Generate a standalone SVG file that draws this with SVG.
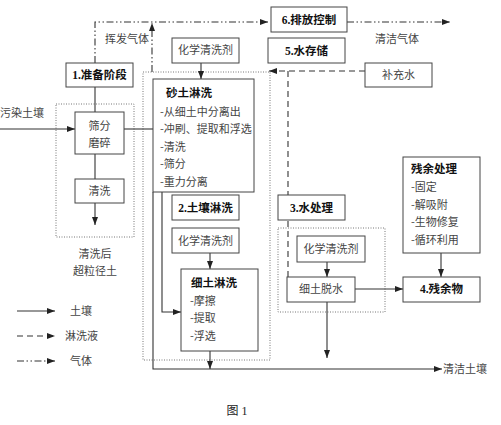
<svg xmlns="http://www.w3.org/2000/svg" width="501" height="425" viewBox="0 0 501 425">
<defs>
<marker id="ah" viewBox="0 0 8 6" refX="8" refY="3" markerWidth="8" markerHeight="6" markerUnits="userSpaceOnUse" orient="auto"><path d="M0,0 L8,3 L0,6 z" fill="#222"/></marker>
<style>
.box{fill:#fff;stroke:#444;stroke-width:1}
.dot{fill:none;stroke:#777;stroke-width:1;stroke-dasharray:1 1.5}
.s{fill:none;stroke:#333;stroke-width:1.1}
.d{fill:none;stroke:#333;stroke-width:1.1;stroke-dasharray:6 4}
.g{fill:none;stroke:#333;stroke-width:1.1;stroke-dasharray:7 2.5 1.5 2.5 1.5 2.5}
.t{font-family:"Noto Sans CJK SC","Liberation Sans",sans-serif;font-size:11px;fill:#444}
.c{text-anchor:middle}
.b{font-family:"Liberation Serif","Noto Sans CJK SC",serif;font-size:11.5px;font-weight:bold;fill:#111}
</style>
</defs>
<rect width="501" height="425" fill="#fff"/>
<g id="dotted-areas">
<rect class="dot" x="56" y="104" width="78" height="133"/>
<rect class="dot" x="143" y="72" width="127" height="288"/>
<rect class="dot" x="278" y="228" width="107" height="84"/>
</g>
<g id="connectors">
<path class="g" d="M95,63 V22 H268" marker-end="url(#ah)"/>
<path class="g" d="M152,72 V23" marker-end="url(#ah)"/>
<path class="g" d="M347,22 H450" marker-end="url(#ah)"/>
<path class="d" d="M365,71 H269" marker-end="url(#ah)"/>
<path class="d" d="M288,71 V277"/>
<path class="s" d="M95,87 V112"/>
<path class="s" d="M95,154 V179"/>
<path class="s" d="M95,203 V225" marker-end="url(#ah)"/>
<path class="s" d="M0,129 H75" marker-end="url(#ah)"/>
<path class="s" d="M124,129 H153"/>
<path class="s" d="M201,63 V79" marker-end="url(#ah)"/>
<path class="s" d="M162,192 V312 H181" marker-end="url(#ah)"/>
<path class="s" d="M153,192 V369 H442" marker-end="url(#ah)"/>
<path class="s" d="M210,253 V269" marker-end="url(#ah)"/>
<path class="s" d="M210,351 V369" marker-end="url(#ah)"/>
<path class="s" d="M327,262 V277" marker-end="url(#ah)"/>
<path class="s" d="M355,289 H403" marker-end="url(#ah)"/>
<path class="s" d="M327,302 V358" marker-end="url(#ah)"/>
<path class="s" d="M441,253 V277" marker-end="url(#ah)"/>
</g>
<g id="labels">
<text class="t" x="105" y="43">挥发气体</text>
<text class="t" x="375" y="43">清洁气体</text>
<text class="t" x="0" y="117">污染土壤</text>
<text class="t c" x="95" y="258">清洗后</text>
<text class="t c" x="95" y="275">超粒径土</text>
<text class="t" x="443" y="373">清洁土壤</text>
<text x="237" y="415" text-anchor="middle" style="font-family:'Liberation Serif','Noto Sans CJK SC',serif;font-size:12px;fill:#222">图 1</text>
</g>
<g id="n1"><rect class="box" x="66" y="63" width="67" height="24"/><text class="b c" x="99.5" y="79">1.准备阶段</text></g>
<g id="n-sieve"><rect class="box" x="75" y="112" width="49" height="42"/><text class="t c" x="99.5" y="130">筛分</text><text class="t c" x="99.5" y="147">磨碎</text></g>
<g id="n-wash"><rect class="box" x="75" y="179" width="49" height="24"/><text class="t c" x="99.5" y="195">清洗</text></g>
<g id="n-chem1"><rect class="box" x="172" y="38" width="67" height="25"/><text class="t c" x="205.5" y="54">化学清洗剂</text></g>
<g id="n-sand"><rect class="box" x="153" y="79" width="101" height="113"/>
<text class="b" x="166" y="97">砂土淋洗</text>
<text class="t" x="160" y="116">-从细土中分离出</text>
<text class="t" x="160" y="133">-冲刷、提取和浮选</text>
<text class="t" x="160" y="151">-清洗</text>
<text class="t" x="160" y="168">-筛分</text>
<text class="t" x="160" y="186">-重力分离</text></g>
<g id="n2"><rect class="box" x="172" y="195" width="67" height="25"/><text class="b c" x="205.5" y="211.5">2.土壤淋洗</text></g>
<g id="n-chem2"><rect class="box" x="172" y="228" width="67" height="25"/><text class="t c" x="205.5" y="244.5">化学清洗剂</text></g>
<g id="n-fine"><rect class="box" x="181" y="269" width="77" height="82"/>
<text class="b" x="191" y="287">细土淋洗</text>
<text class="t" x="190" y="305">-摩擦</text>
<text class="t" x="190" y="322">-提取</text>
<text class="t" x="190" y="340">-浮选</text></g>
<g id="n6"><rect class="box" x="271" y="7" width="76" height="25"/><text class="b c" x="309" y="24">6.排放控制</text></g>
<g id="n5"><rect class="box" x="268" y="38" width="77" height="25"/><text class="b c" x="306.5" y="55">5.水存储</text></g>
<g id="n-water"><rect class="box" x="365" y="63" width="67" height="24"/><text class="t c" x="398.5" y="79">补充水</text></g>
<g id="n3"><rect class="box" x="278" y="195" width="67" height="25"/><text class="b c" x="311.5" y="211.5">3.水处理</text></g>
<g id="n-chem3"><rect class="box" x="297" y="236" width="68" height="26"/><text class="t c" x="331" y="253">化学清洗剂</text></g>
<g id="n-dewater"><rect class="box" x="287" y="277" width="68" height="25"/><text class="t c" x="321" y="293">细土脱水</text></g>
<g id="n4"><rect class="box" x="403" y="277" width="77" height="25"/><text class="b c" x="441.5" y="293">4.残余物</text></g>
<g id="n-residue"><rect class="box" x="403" y="157" width="77" height="96"/>
<text class="b" x="411" y="173">残余处理</text>
<text class="t" x="411" y="191">-固定</text>
<text class="t" x="411" y="209">-解吸附</text>
<text class="t" x="411" y="226">-生物修复</text>
<text class="t" x="411" y="244">-循环利用</text></g>
<g id="legend">
<path class="s" d="M17,311 H55" marker-end="url(#ah)"/><text class="t" x="70" y="315">土壤</text>
<path class="d" d="M17,336 H55" marker-end="url(#ah)"/><text class="t" x="65" y="340">淋洗液</text>
<path class="g" d="M17,361 H55" marker-end="url(#ah)"/><text class="t" x="70" y="365">气体</text>
</g>
</svg>
